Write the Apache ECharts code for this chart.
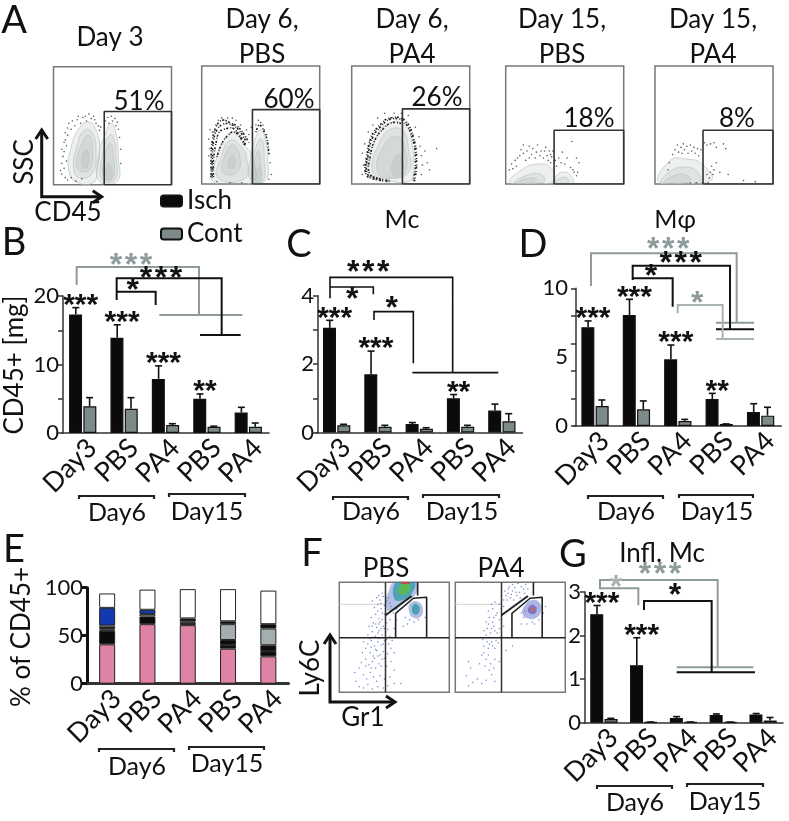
<!DOCTYPE html>
<html><head><meta charset="utf-8">
<style>html,body{margin:0;padding:0;background:#fff}#c{width:789px;height:821px}</style>
<script src="https://cdn.jsdelivr.net/npm/echarts@6/dist/echarts.min.js"></script></head>
<body><div id="c"></div>
<script>
const categories=['Day3','PBS','PA4','PBS','PA4'];
// Panel B
const bIsch=[17.3,13.9,7.9,5.0,3.0], bIschTop=[18.3,15.8,9.8,5.7,3.75];
const bCont=[3.9,3.55,1.17,0.92,0.92], bContTop=[5.16,5.16,1.36,1.0,1.46];
const bStars=['***','***','***','**',''];
// Panel C
const cIsch=[3.06,1.7,0.25,1.0,0.64], cIschTop=[3.28,2.38,0.29,1.11,0.83];
const cCont=[0.21,0.17,0.11,0.17,0.33], cContTop=[0.24,0.21,0.14,0.21,0.55];
const cStars=['***','***','','**',''];
// Panel D
const dIsch=[7.17,8.06,4.84,1.96,1.02], dIschTop=[7.63,9.2,5.88,2.37,1.62];
const dCont=[1.45,1.21,0.36,0.15,0.75], dContTop=[1.89,1.82,0.48,0.15,1.36];
const dStars=['***','***','***','**',''];
// Panel G
const gIsch=[2.49,1.32,0.107,0.176,0.19], gIschTop=[2.69,1.95,0.14,0.2,0.21];
const gCont=[0.084,0.015,0.015,0.015,0.05], gContTop=[0.1,0.015,0.015,0.015,0.12];
const gStars=['***','***','','',''];
// Panel E stacks
const ePink=[41,62,61,36.5,28.5];
const eBlackA=[14,8,2.5,3.5,5];
const eLightA=[1.5,null,null,0.5,0.5];
const eBlackB=[1.5,null,null,5,6];
const eGrey=[2.5,2.5,1.5,16.5,17.5];
const eBlue=[18.5,4.5,null,null,null];
const eBlackC=[null,null,3,3,4.5];
const eWhite=[15,21,30.5,33.5,35];
// Panel A gates, percent of each plot
const aGates=[[43,62],[43,63],[43,63.7],[41,45.5],[40.7,45.5]];
const aPct=['51%','60%','26%','18%','8%'];
// Contour outlines, percent of each plot
const a1Lobes=[[[13,12],[15,32],[22,48],[30,53],[37,44],[39,29],[37,12],[34,2],[20,2]],[[17,14],[20,33],[26,46],[33,44],[36,28],[33,10],[22,6]],[[20,15],[24,35],[30,42],[33,30],[30,12]],[[24,18],[27,30],[30,25],[28,14]],[[39,3],[38,23],[44,43],[49,52],[53,43],[55,23],[54,3]],[[41,4],[41,22],[46,40],[50,42],[53,24],[52,4]],[[43,5],[43,22],[48,35],[51,22],[50,5]],[[45,5],[46,18],[49,15],[49,5]]];
const a2Lobes=[[[10,2],[13,23],[21,40],[28,44],[37,32],[43,23],[43,2]],[[14,5],[17,24],[24,37],[33,32],[38,22],[37,5]],[[18,10],[20,25],[26,33],[32,25],[30,10]],[[23,14],[24,22],[27,24],[28,15]],[[41,4],[42,25],[46,40],[50,46],[54,38],[56,20],[54,3]],[[43,3],[44,22],[47,34],[51,38],[53,20],[52,3]],[[44,2],[45,18],[48,28],[50,18],[50,2]],[[46,2],[47,12],[49,14],[49,2]]];
const a3Lobes=[[[14,8],[20,38],[33,52],[45,50],[51,35],[52,15],[50,3],[30,3]],[[18,10],[24,36],[34,47],[44,44],[48,30],[48,10],[32,5]],[[22,10],[27,32],[38,40],[45,30],[45,10],[35,5]],[[35,8],[36,22],[42,24],[42,8]]];
const a4Lobes=[[[4,1],[15,13],[29,17],[38,14],[42,5],[40,1]],[[8,1],[20,8],[30,8],[33,3],[30,1]],[[10,1],[20,5],[26,4],[22,1]],[[41,1],[44,8],[50,10],[56,6],[57,1]],[[43,1],[46,5],[52,5],[53,1]]];
const a5Lobes=[[[4,1],[13,20],[27,21],[40,17],[47,3]],[[6,1],[15,12],[28,14],[36,10],[38,2]],[[8,1],[16,7],[25,8],[30,4],[25,1]]];
// Heavy stippled bands of events round the contours
const a2Bands=[[[8,6],[8,22],[9,37],[12,48],[17,54],[24,52],[30,49],[36,42],[40,35]],[[10,6],[10,20],[12,34],[15,44],[21,47],[27,47],[33,40],[38,32]],[[9,5],[9,21],[10,36],[13,46],[19,51],[26,50],[32,45],[37,37]],[[13,23],[16,32],[21,40],[28,44],[37,32]],[[46,44],[49,50],[54,42],[56,34],[57,25]]];
const a3Bands=[[[32,2],[20,4],[12,8],[13,25],[17,41],[24,50],[32,56],[45,54],[53,37],[55,16],[53,2]],[[32,3],[21,5],[13,9],[14,25],[18,40],[25,49],[33,55],[44,53],[52,37],[54,16],[52,3]],[[24,4],[15,9],[16,25],[20,38],[27,47],[34,52],[43,51]]];
const a1Bands=[];const a4Bands=[];const a5Bands=[];
// Outlying events
const a1Dots=[[6,12],[7,9],[7,18],[8,24],[7,30],[9,28],[9,36],[10,38],[10,44],[12,42],[12,48],[13,52],[15,47],[16,54],[18,50],[20,55],[21,58],[23,52],[25,57],[27,58],[28,54],[30,60],[32,56],[34,58],[35,55],[36,52],[38,50],[39,46],[40,49],[44,54],[46,57],[47,52],[49,58],[50,54],[52,56],[53,50],[54,53],[55,47],[56,40],[57,30],[57,18],[10,6],[12,4],[15,6],[19,3],[24,5],[9,14],[11,20],[11,33]];
const a2Dots=[[8,8],[9,14],[6,24],[7,30],[6,38],[9,44],[7,46],[12,50],[14,54],[17,56],[20,54],[22,56],[26,56],[29,54],[33,50],[38,46],[40,42],[42,48],[46,50],[48,54],[50,52],[52,50],[53,46],[55,42],[56,34],[57,26],[58,18],[59,8],[57,4],[13,2],[24,1],[34,1]];
const a3Dots=[[9,8],[10,16],[9,26],[11,34],[14,44],[18,50],[22,56],[28,60],[36,60],[42,60],[48,58],[54,48],[57,40],[58,32],[59,24],[60,16],[59,8],[62,28],[64,18],[66,12],[72,30]];
const a4Dots=[[5,17],[8,20],[10,22],[12,24],[13,29],[15,26],[15,33],[17,20],[18,28],[20,32],[20,22],[22,25],[23,30],[25,22],[26,27],[27,33],[29,24],[30,28],[32,22],[33,28],[34,31],[35,24],[36,20],[37,28],[38,25],[38,18],[39,23],[40,28],[42,20],[43,15],[45,22],[47,18],[48,27],[50,17],[52,22],[55,14],[57,12],[60,22],[62,18],[58,10],[60,7],[56,36],[61,10],[3,12],[6,13],[9,15]];
const a5Dots=[[15,25],[17,29],[19,33],[20,27],[22,31],[23,26],[24,34],[25,29],[27,32],[28,26],[30,33],[31,28],[33,31],[34,26],[36,30],[37,24],[39,29],[42,35],[44,33],[47,34],[50,35],[52,31],[58,34],[60,30],[48,15],[50,12],[52,18],[47,10],[49,8],[55,10],[62,8],[75,3],[85,2],[44,8],[46,5],[12,18],[11,12],[30,1],[35,1],[40,1],[45,1]];
// Panel F
const fCloud=[[18,5],[15,10],[22,4],[26,7],[30,3],[35,5],[40,4],[44,6],[50,8],[56,8],[14,18],[18,22],[22,16],[25,12],[28,18],[31,14],[34,10],[37,15],[41,12],[46,14],[20,27],[24,30],[27,25],[30,28],[33,22],[36,26],[39,30],[43,24],[47,28],[50,20],[21,36],[24,40],[28,36],[31,33],[34,38],[37,34],[40,37],[44,35],[47,40],[50,36],[22,46],[26,44],[29,47],[32,42],[35,46],[38,43],[41,47],[45,44],[48,47],[26,52],[30,55],[33,51],[36,56],[39,52],[42,55],[46,51],[50,58],[27,60],[31,63],[34,59],[37,64],[40,60],[43,63],[46,66],[29,68],[33,71],[36,67],[39,72],[42,68],[32,77],[35,80],[38,76],[41,79],[44,75],[30,83],[34,86],[37,84],[40,87],[43,83],[46,81],
[24,24],[29,22],[32,31],[35,33],[38,24],[41,31],[29,41],[33,39],[36,49],[40,44],[43,48],[28,49],[31,50],[35,54],[38,58],[41,58],[44,57],[30,60],[33,62],[36,62],[39,66],[41,71],[35,74],[38,81],[42,76],[36,88],[39,90],[42,88],[45,86],[47,78],[49,72],[52,76],[60,68],[64,66],[68,64],[72,66],[78,68],[62,62],[58,60],[52,66]];
const fCloud2=[[12,6],[10,15],[16,9],[14,22],[12,28],[20,12],[24,8],[28,11],[33,16],[36,10],[28,30],[32,26],[24,34],[36,30],[40,28],[26,42],[30,40],[33,46],[36,40],[39,45],[42,42],[46,38],[52,42],[26,56],[29,58],[32,54],[35,60],[38,54],[41,50],[28,64],[31,68],[34,64],[37,70],[40,66],[44,60],[30,74],[34,76],[38,72],[36,82],[40,80],[44,84],[46,88],[48,90],[50,86],[52,92],[54,95],[56,88],[58,91],[60,96],[62,94],[64,98],[48,94],[52,98],[57,99],[44,78],[62,68],[70,64],[60,62],
[26,36],[29,46],[31,44],[34,42],[37,47],[30,34],[27,24],[31,20],[22,26],[35,22],[25,48],[28,52],[33,58],[36,56],[40,58],[30,62],[35,68],[33,80],[42,76],[45,92],[49,96],[51,89],[55,91],[59,86],[63,90],[66,94],[53,84],[47,84],[60,72],[63,74],[65,62],[72,62],[76,66],[80,72],[82,78]];
const fPbsHeat=[[[42,80],[45,92],[50,100],[70,100],[70,90],[60,82],[48,74]],[[50,85],[52,100],[68,100],[66,90],[58,84]],[[54,90],[56,98],[64,98],[62,90]],[[56,99],[56,100],[64,100],[64,99]],[[63,76],[66,82],[72,82],[76,76],[74,69],[67,68]],[[66,75],[68,80],[72,79],[73,75],[71,71],[68,71]]];
const fPa4Heat=[[[61,72],[64,80],[70,84],[76,82],[78,75],[74,68],[66,67]],[[66,74],[68,79],[72,79],[74,75],[71,71]],[[69,75],[70,77],[71,77],[71,74]]];
const fPbsUpper=[[42,70],[65.8,87.6]], fPbsGate=[[51.2,49.7],[51.2,71.8],[67.3,85.5],[79.4,86.4],[79.4,49.7]], fPbsTop=[[71.2,100],[71.2,87.9]];
const fPa4Upper=[[42,70],[66,87.6]], fPa4Gate=[[51.5,49.7],[51.5,71.8],[68,85.5],[79,86.4],[79,49.7]], fPa4Top=[[71,100],[71,87.9]];

const SANS='Lato';
const grids=[],xAxes=[],yAxes=[],series=[],gfx=[];
const ISCH='#0b0b0b',CONT='#7d8a8a';

function text(t,x,y,size,extra){
  extra=extra||{};
  gfx.push({type:'text',x:x,y:y,rotation:extra.rotation||0,z:50,silent:true,
    style:{text:t,x:0,y:0,fontFamily:extra.font||SANS,fontWeight:extra.weight||'normal',fontSize:size,fill:extra.fill||'#111',align:'center',verticalAlign:'middle'}});
}
function line(pts,color,w,ox,oy){
  gfx.push({type:'polyline',z:49,silent:true,shape:{points:pts.map(p=>[ox+p[0]/3,oy+p[1]/3])},style:{fill:null,stroke:color,lineWidth:w}});
}
function tip(x0,x1,y){
  gfx.push({type:'polyline',z:49,silent:true,shape:{points:[[x0,y+3],[x0,y],[x1,y],[x1,y+3]]},style:{fill:null,stroke:'#222',lineWidth:2.2}});
}
function stars(t,x,y,color){
  const n=t.length, step=15;
  for(let i=0;i<n;i++) text('*',x+(i-(n-1)/2)*step,y+5,32,{fill:color||'#111',font:'Liberation Sans',weight:'bold'});
}
function errSeries(idx,vals,tops,dx,marks){
  return {type:'custom',xAxisIndex:idx,yAxisIndex:idx,z:6,clip:false,silent:true,
    data:vals.map((v,i)=>[i,v,tops[i]]),encode:{x:0,y:[1,2]},
    renderItem:function(p,api){
      const i=api.value(0),a=api.coord([i,api.value(1)]),b=api.coord([i,api.value(2)]);
      const x=a[0]+dx,kids=[
        {type:'line',shape:{x1:x,y1:a[1],x2:x,y2:b[1]},style:{stroke:'#111',lineWidth:1.6}},
        {type:'line',shape:{x1:x-3.5,y1:b[1],x2:x+3.5,y2:b[1]},style:{stroke:'#111',lineWidth:1.6}}];
      if(marks&&marks[p.dataIndex]) kids.push({type:'text',style:{text:marks[p.dataIndex],x:a[0]-2,y:b[1]-2,fontFamily:'Liberation Sans',fontWeight:'bold',fontSize:30,fill:'#111',align:'center',verticalAlign:'middle'}});
      return {type:'group',children:kids};
    }};
}
function xCat(idx,w){
  return {type:'category',gridIndex:idx,data:categories,
    axisLine:{lineStyle:{color:'#333',width:w||1.5}},
    axisTick:{alignWithLabel:w?false:true,length:5,lineStyle:{color:'#333',width:w||1.5}},
    axisLabel:{rotate:45,fontFamily:SANS,fontSize:27,color:'#111',margin:1,interval:0,verticalAlign:'top'}};
}
function barPanel(left,top,bottom,width,yMax,yInt,minor,yOff,I,IT,C,CT,S){
  const idx=grids.length;
  grids.push({left:left,top:top,width:width,height:bottom-top});
  xAxes.push(xCat(idx));
  yAxes.push({type:'value',gridIndex:idx,min:0,max:yMax,interval:yInt,offset:yOff,splitLine:{show:false},
    axisLine:{show:true,lineStyle:{color:'#333',width:1.5}},
    axisTick:{show:true,length:5,lineStyle:{color:'#333',width:1.5}},
    minorTick:{show:!!minor,splitNumber:minor||1,length:5,lineStyle:{color:'#333',width:1.5}},
    axisLabel:{fontFamily:SANS,fontSize:22,color:'#111',margin:4}});
  series.push({type:'bar',name:'Isch',xAxisIndex:idx,yAxisIndex:idx,data:I,barWidth:13,barGap:'10%',itemStyle:{color:ISCH,borderColor:'#111',borderWidth:1.2}});
  series.push({type:'bar',name:'Cont',xAxisIndex:idx,yAxisIndex:idx,data:C,barWidth:13,barGap:'10%',itemStyle:{color:CONT,borderColor:'#111',borderWidth:1.2}});
  series.push(errSeries(idx,I,IT,-6.9,S));
  series.push(errSeries(idx,C,CT,6.9,null));
  return idx;
}
barPanel(62,296,433,207,20,10,2,-1,bIsch,bIschTop,bCont,bContTop,bStars);
barPanel(316,295.7,432.5,206.5,4,2,2,-2,cIsch,cIschTop,cCont,cContTop,cStars);
const dIdx=barPanel(574.3,288.3,426,207,10,2,0,-1.7,dIsch,dIschTop,dCont,dContTop,dStars);
yAxes[dIdx].axisLabel.show=false;
barPanel(584,592,722.7,199,3,1,0,-1,gIsch,gIschTop,gCont,gContTop,gStars);

// Panel E
const eIdx=grids.length;
grids.push({left:87,top:587.7,width:201.5,height:96});
xAxes.push(xCat(eIdx,3));
yAxes.push({type:'value',gridIndex:eIdx,min:0,max:100,interval:50,splitLine:{show:false},
  axisLine:{show:true,lineStyle:{color:'#111',width:3}},axisTick:{show:true,length:5,lineStyle:{color:'#111',width:3}},
  axisLabel:{fontFamily:SANS,fontSize:22,color:'#111',margin:4}});
[[ePink,'#df83a6'],[eBlackA,'#0b0b0b'],[eLightA,'#c9d0d0'],[eBlackB,'#0b0b0b'],[eGrey,'#a4aeae'],[eBlue,'#1239b0'],[eBlackC,'#0b0b0b'],[eWhite,'#ffffff']].forEach(s=>{
  series.push({type:'bar',stack:'e',xAxisIndex:eIdx,yAxisIndex:eIdx,data:s[0],barWidth:16,itemStyle:{color:s[1],borderColor:'#222',borderWidth:1}});
});

// Flow panels
function flowGrid(l,t,w,h){
  const idx=grids.length;
  grids.push({left:l,top:t,width:w,height:h,show:true,borderColor:'#777',borderWidth:1.5,backgroundColor:'#fff'});
  xAxes.push({type:'value',gridIndex:idx,min:0,max:100,show:false});
  yAxes.push({type:'value',gridIndex:idx,min:0,max:100,show:false});
  return idx;
}
function polySeries(idx,polys,styleOf){
  series.push({type:'custom',xAxisIndex:idx,yAxisIndex:idx,silent:true,z:3,clip:true,
    data:polys.map((_,i)=>[i,i]),
    renderItem:function(p,api){
      const pts=polys[p.dataIndex].map(q=>api.coord(q));
      return {type:'polygon',shape:{points:pts,smooth:0.5},style:styleOf(p.dataIndex)};
    }});
}
function bandSeries(idx,bands){
  series.push({type:'custom',xAxisIndex:idx,yAxisIndex:idx,silent:true,z:3,clip:true,
    data:bands.map((_,i)=>[i,i]),
    renderItem:function(p,api){
      return {type:'polyline',shape:{points:bands[p.dataIndex].map(q=>api.coord(q)),smooth:0.4},style:{fill:null,stroke:'#222',lineWidth:1.6,lineDash:[1,1.2,2,2.2]}};
    }});
}
function dotSeries(idx,d,color,size){
  series.push({type:'scatter',xAxisIndex:idx,yAxisIndex:idx,data:d,symbolSize:size,silent:true,z:4,itemStyle:{color:color}});
}
function pathSeries(idx,d,color,w,z){
  series.push({type:'line',xAxisIndex:idx,yAxisIndex:idx,data:d,showSymbol:false,symbol:'none',silent:true,z:z||5,lineStyle:{color:color,width:w}});
}
const contour=(lobes)=>i=>{return {fill:'rgba(150,160,160,.16)',stroke:'#c2c8c8',lineWidth:0.8};};
const aBoxes=[[53.5,66.7],[201.7,66],[351.7,66],[505.7,66],[655,66]];
const aLobes=[a1Lobes,a2Lobes,a3Lobes,a4Lobes,a5Lobes], aDots=[a1Dots,a2Dots,a3Dots,a4Dots,a5Dots];
const aBands=[a1Bands,a2Bands,a3Bands,a4Bands,a5Bands];
aBoxes.forEach((b,k)=>{
  const idx=flowGrid(b[0],b[1],118,118);
  polySeries(idx,aLobes[k],contour(aLobes[k]));
  if(aBands[k].length) bandSeries(idx,aBands[k]);
  dotSeries(idx,aDots[k],'#333',1.6);
  const g=aGates[k];
  pathSeries(idx,[[g[0],0],[g[0],g[1]],[100,g[1]],[100,0],[g[0],0]],'#333',1.6);
});
const heat=['rgba(60,90,190,.38)','rgba(46,154,166,.75)','#58b85a','#e0352a','rgba(60,90,190,.4)','rgba(46,154,166,.8)'];
const heat2=['rgba(60,80,190,.42)','rgba(120,100,190,.8)','#d9692e'];
const fP1=flowGrid(339.3,582.3,110,110), fP2=flowGrid(455.3,582.3,110,110);
polySeries(fP1,fPbsHeat,i=>({fill:heat[i]}));
polySeries(fP2,fPa4Heat,i=>({fill:heat2[i]}));
dotSeries(fP1,fCloud,'#5468c8',1.5);
dotSeries(fP2,fCloud2,'#5468c8',1.5);
[[fP1,fPbsUpper,fPbsGate,fPbsTop],[fP2,fPa4Upper,fPa4Gate,fPa4Top]].forEach(a=>{
  pathSeries(a[0],[[0,80],[42,80]],'#d3d3d3',1,4);
  pathSeries(a[0],[[42,0],[42,100]],'#333',1.5);
  pathSeries(a[0],[[0,49.7],[100,49.7]],'#222',1.5);
  pathSeries(a[0],a[1],'#222',2);
  pathSeries(a[0],a[2],'#222',1.6);
  pathSeries(a[0],a[3],'#222',1.6);
});
// D: ticks every 2, labels every 5 (extra axis kept last so indexes stay aligned)
yAxes.push({type:'value',gridIndex:dIdx,position:'left',min:0,max:10,interval:5,offset:-1.7,splitLine:{show:false},axisLine:{show:false},axisTick:{show:false},axisLabel:{fontFamily:SANS,fontSize:22,color:'#111',margin:8}});

// Texts
const L=38;
text('A',14,21,L);text('B',14,243,L);text('C',299,245,L);text('D',533,245,L);text('E',14,550,L);text('F',312,554,L);text('G',573,555,L);
text('Day 3',110,38,26);text('Day 6,',262,20,26);text('PBS',262,55,26);text('Day 6,',412,20,26);text('PA4',412,55,26);
text('Day 15,',562,20,26);text('PBS',562,55,26);text('Day 15,',713,20,26);text('PA4',713,55,26);
[[139,102],[289,100],[437,98],[589,119],[737,119]].forEach((p,k)=>text(aPct[k],p[0],p[1],26));
text('SSC',25,162,26,{rotation:Math.PI/2});text('CD45',68,213,26);
text('Mc',402,220,25);text('M\u03c6',675,220,25,{font:'Lato, DejaVu Serif'});text('Infl. Mc',662,554,26);
text('CD45+ [mg]',15,365,26,{rotation:Math.PI/2});text('% of CD45+',22,637,26,{rotation:Math.PI/2});
text('Ly6C',311,668,26,{rotation:Math.PI/2});text('Gr1',363,718,26);text('PBS',386,569,26);text('PA4',501,569,26);
function arrows(x,yTop,yBot,xRight){
  gfx.push({type:'polyline',z:49,silent:true,shape:{points:[[x,yTop],[x,yBot],[xRight,yBot]]},style:{fill:null,stroke:'#111',lineWidth:3}});
  gfx.push({type:'polyline',z:49,silent:true,shape:{points:[[x-6,yTop+9],[x,yTop],[x+6,yTop+9]]},style:{fill:null,stroke:'#111',lineWidth:3}});
  gfx.push({type:'polyline',z:49,silent:true,shape:{points:[[xRight-9,yBot-6],[xRight,yBot],[xRight-9,yBot+6]]},style:{fill:null,stroke:'#111',lineWidth:3}});
}
arrows(41.7,130,196.7,101.7);arrows(330,635,702,395);
[[79,154,496,117,513,'Day6'],[169,245,494,207,512,'Day15'],[333,408,497,371,512,'Day6'],[423,499,495,462,512,'Day15'],[588,663,496,626,512,'Day6'],[679,753,495,717,512,'Day15'],[99,174,749,137,767,'Day6'],[189,264,747,227,764,'Day15'],[597,672,786,635,803,'Day6'],[687,763,784,725,802,'Day15']].forEach(b=>{tip(b[0],b[1],b[2]);text(b[5],b[3],b[4],25);});
const GR='#8f9b9b';
let ox=0,oy=225;
line([[230,180],[230,126],[597,126],[597,270]],GR,2,ox,oy);line([[478,270],[727,270]],GR,2,ox,oy);stars('***',393/3,225+108/3,GR);
line([[350,225],[350,160],[665,160],[665,330]],'#111',2,ox,oy);line([[600,330],[722,330]],'#111',2,ox,oy);stars('***',483/3,225+148/3);
line([[350,200],[467,200],[467,240]],'#111',2,ox,oy);stars('*',398/3,225+185/3);
ox=270;
line([[180,220],[180,157],[548,157],[548,443]],'#111',1.6,ox,oy);line([[427,443],[685,443]],'#111',1.6,ox,oy);stars('***',270+295/3,225+130/3);
line([[180,186],[310,186],[310,208]],'#111',1.6,ox,oy);stars('*',270+247/3,225+210/3);
line([[312,285],[312,260],[430,260],[430,415]],'#111',1.6,ox,oy);stars('*',270+365/3,225+238/3);
ox=510;
line([[243,183],[243,85],[680,85],[680,293]],GR,2,ox,oy);line([[618,293],[732,293]],GR,2,ox,oy);stars('***',510+475/3,225+62/3,GR);
line([[368,165],[368,122],[660,122],[660,313]],'#111',2,ox,oy);line([[618,313],[732,313]],'#111',2,ox,oy);stars('***',510+512/3,225+103/3);
line([[368,160],[488,160],[488,245]],'#111',2,ox,oy);stars('*',510+423/3,225+143/3);
line([[503,265],[503,240],[638,240],[638,342]],'#a9b3b3',2,ox,oy);line([[618,342],[732,342]],'#a9b3b3',2,ox,oy);stars('*',510+562/3,225+222/3,GR);
ox=540;oy=530;
line([[180,178],[180,150],[533,150],[533,412]],GR,2,ox,oy);line([[410,412],[640,412]],GR,2,ox,oy);stars('***',540+360/3,530+122/3,GR);
line([[180,175],[295,175],[295,226]],GR,2,ox,oy);stars('*',540+228/3,530+160/3,'#a9b3b3');
line([[312,240],[312,213],[515,213],[515,427]],'#111',2,ox,oy);line([[410,427],[645,427]],'#111',2,ox,oy);stars('*',540+405/3,530+185/3);

const chart=echarts.init(document.getElementById('c'),null,{renderer:'canvas'});
chart.setOption({animation:false,backgroundColor:'#fff',
  legend:{data:['Isch','Cont'],orient:'vertical',left:160,top:188,itemWidth:21,itemHeight:11,itemGap:7,padding:0,
    textStyle:{fontFamily:SANS,fontSize:26,color:'#111'},selectedMode:false},
  grid:grids,xAxis:xAxes,yAxis:yAxes,series:series,graphic:{elements:gfx}});
</script></body></html>
